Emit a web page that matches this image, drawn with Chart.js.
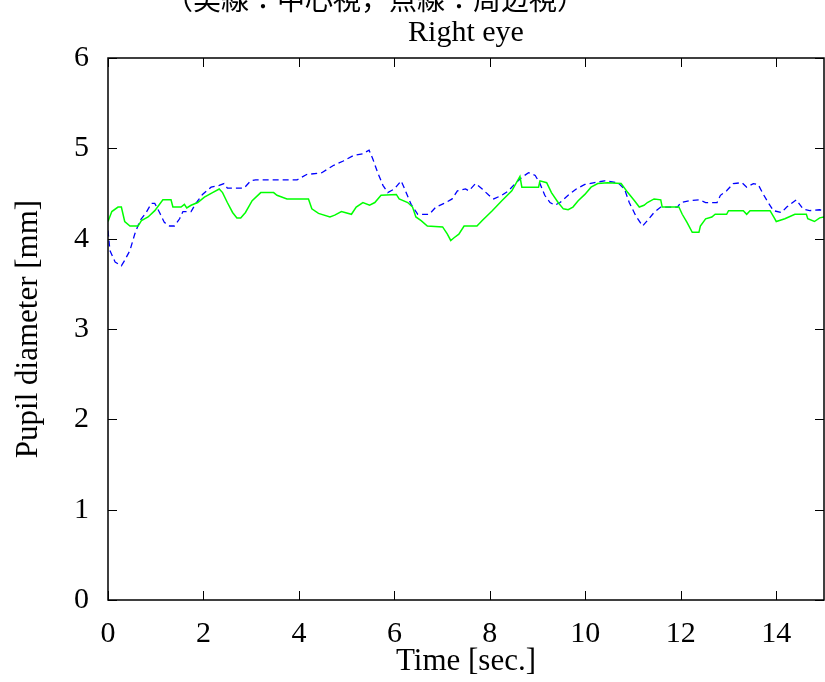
<!DOCTYPE html>
<html>
<head>
<meta charset="utf-8">
<script src="https://cdn.jsdelivr.net/npm/chart.js@4.4.1/dist/chart.umd.min.js"></script>
<style>
  html, body { margin: 0; padding: 0; background: #fff; overflow: hidden; }
  #wrap { position: relative; width: 825px; height: 682px; }
  #note {
    position: absolute; left: 165px; top: -16px;
    font-family: "Noto Sans CJK JP"; font-size: 28px; line-height: 28px;
    color: #000; white-space: nowrap;
  }
</style>
</head>
<body>
<div id="wrap">
  <canvas id="pupilChart"></canvas>
  <div id="note">（実線：中心視，点線：周辺視）</div>
</div>
<script>
// Right eye pupil diameter, central (solid green) vs peripheral (dashed blue)
const greenTime = [0.00, 0.08, 0.21, 0.28, 0.35, 0.46, 0.63, 0.70, 0.84, 0.98, 1.15, 1.32, 1.36, 1.53, 1.60, 1.65, 1.74, 1.88,
  2.02, 2.19, 2.33, 2.40, 2.50, 2.61, 2.70, 2.78, 2.88, 3.02, 3.20, 3.47, 3.54, 3.75, 4.20, 4.27, 4.41, 4.65, 4.75, 4.89,
  5.10, 5.20, 5.34, 5.48, 5.59, 5.72, 6.04, 6.10, 6.28, 6.38, 6.45, 6.56, 6.69, 7.01, 7.11, 7.18, 7.25, 7.35, 7.46, 7.73,
  7.84, 8.05, 8.25, 8.46, 8.63, 8.67, 9.02, 9.05, 9.19, 9.29, 9.43, 9.54, 9.64, 9.74, 9.85, 9.99, 10.12, 10.26, 10.47,
  10.75, 10.89, 11.03, 11.13, 11.23, 11.30, 11.44, 11.58, 11.61, 11.96, 12.03, 12.13, 12.24, 12.38, 12.41, 12.52, 12.65,
  12.72, 12.96, 13.00, 13.31, 13.38, 13.45, 13.87, 13.97, 14.00, 14.18, 14.39, 14.63, 14.66, 14.80, 14.91, 15.00];
const greenPupil = [4.19, 4.30, 4.35, 4.35, 4.19, 4.14, 4.14, 4.20, 4.24, 4.31, 4.43, 4.43, 4.35, 4.35, 4.38, 4.34, 4.37, 4.40,
  4.46, 4.51, 4.55, 4.51, 4.40, 4.29, 4.23, 4.23, 4.29, 4.42, 4.51, 4.51, 4.48, 4.44, 4.44, 4.33, 4.28, 4.24, 4.26, 4.30,
  4.27, 4.35, 4.40, 4.37, 4.40, 4.48, 4.49, 4.44, 4.40, 4.35, 4.24, 4.20, 4.14, 4.13, 4.05, 3.98, 4.01, 4.05, 4.14, 4.14,
  4.20, 4.31, 4.42, 4.53, 4.69, 4.57, 4.57, 4.64, 4.62, 4.51, 4.40, 4.33, 4.32, 4.35, 4.42, 4.49, 4.57, 4.61, 4.62,
  4.61, 4.51, 4.42, 4.35, 4.37, 4.40, 4.44, 4.43, 4.35, 4.35, 4.27, 4.18, 4.07, 4.07, 4.14, 4.22, 4.24,
  4.27, 4.27, 4.31, 4.31, 4.27, 4.31, 4.31, 4.22, 4.19, 4.22, 4.27, 4.27, 4.22, 4.19, 4.23, 4.24];

const blueTime = [0.00, 0.04, 0.15, 0.28, 0.35, 0.46, 0.56, 0.67, 0.80, 0.91, 0.98, 1.08, 1.18, 1.29, 1.39, 1.50, 1.57, 1.74,
  1.84, 1.98, 2.16, 2.33, 2.43, 2.50, 2.85, 2.99, 3.09, 3.96, 4.16, 4.48, 4.72, 4.93, 5.14, 5.34, 5.47, 5.55, 5.65, 5.76,
  5.86, 6.00, 6.14, 6.20, 6.35, 6.49, 6.73, 6.87, 7.08, 7.21, 7.32, 7.49, 7.56, 7.70, 7.84, 7.98, 8.08, 8.25, 8.39, 8.53,
  8.67, 8.81, 8.95, 9.05, 9.15, 9.26, 9.36, 9.47, 9.64, 9.81, 9.99, 10.19, 10.40, 10.68, 10.82, 10.92, 11.06, 11.20,
  11.30, 11.44, 11.58, 11.93, 12.00, 12.17, 12.38, 12.52, 12.76, 12.83, 12.96, 13.10, 13.28, 13.38, 13.52, 13.62, 13.73,
  13.83, 13.94, 14.11, 14.22, 14.42, 14.56, 14.70, 14.91, 15.00];
const bluePupil = [4.09, 3.87, 3.74, 3.70, 3.76, 3.87, 4.05, 4.20, 4.29, 4.39, 4.39, 4.29, 4.18, 4.14, 4.14, 4.22, 4.30, 4.30,
  4.39, 4.49, 4.57, 4.59, 4.61, 4.56, 4.56, 4.64, 4.65, 4.65, 4.71, 4.73, 4.81, 4.86, 4.92, 4.94, 4.98, 4.88, 4.73, 4.59,
  4.51, 4.55, 4.64, 4.57, 4.38, 4.27, 4.27, 4.35, 4.40, 4.44, 4.53, 4.55, 4.53, 4.61, 4.55, 4.48, 4.44, 4.48, 4.53, 4.61,
  4.68, 4.73, 4.70, 4.61, 4.48, 4.40, 4.37, 4.40, 4.48, 4.55, 4.60, 4.62, 4.64, 4.62, 4.55, 4.40, 4.25, 4.14,
  4.20, 4.29, 4.35, 4.35, 4.40, 4.42, 4.43, 4.40, 4.40, 4.48, 4.53, 4.61, 4.62, 4.57, 4.61, 4.60, 4.49,
  4.40, 4.31, 4.29, 4.35, 4.43, 4.33, 4.31, 4.32, 4.31];

const xTicks = [0, 2, 4, 6, 8, 10, 12, 14];
const yTicks = [0, 1, 2, 3, 4, 5, 6];

const serif = 'Liberation Serif';

function toPoints(ts, vs) {
  return ts.map((t, i) => ({ x: t, y: vs[i] }));
}

// gnuplot style box with ticks pointing inward on all four sides
const frameTicks = {
  id: 'frameTicks',
  afterDatasetsDraw(chart) {
    const { ctx, chartArea: a, scales } = chart;
    const len = 9;
    ctx.save();
    ctx.strokeStyle = '#000';
    ctx.lineWidth = 1.5;
    ctx.strokeRect(a.left, a.top, a.right - a.left, a.bottom - a.top);
    ctx.lineWidth = 1;
    ctx.beginPath();
    xTicks.forEach(v => {
      const px = Math.round(scales.x.getPixelForValue(v)) + 0.5;
      ctx.moveTo(px, a.bottom); ctx.lineTo(px, a.bottom - len);
      ctx.moveTo(px, a.top); ctx.lineTo(px, a.top + len);
    });
    yTicks.forEach(v => {
      const py = Math.round(scales.y.getPixelForValue(v)) + 0.5;
      ctx.moveTo(a.left, py); ctx.lineTo(a.left + len, py);
      ctx.moveTo(a.right, py); ctx.lineTo(a.right - len, py);
    });
    ctx.stroke();
    ctx.restore();
  }
};

const ctx = document.getElementById('pupilChart').getContext('2d');
const pupilChart = new Chart(ctx, {
  type: 'line',
  data: {
    datasets: [{
      label: 'Central',
      data: toPoints(greenTime, greenPupil),
      borderColor: '#00ff00',
      borderWidth: 1.5,
      pointRadius: 0,
      tension: 0
    }, {
      label: 'Peripheral',
      data: toPoints(blueTime, bluePupil),
      borderColor: '#0000ff',
      borderWidth: 1.3,
      borderDash: [6, 4],
      pointRadius: 0,
      tension: 0
    }]
  },
  options: {
    responsive: true,
    maintainAspectRatio: false,
    animation: false,
    layout: { padding: { left: 0, right: 1, top: 0, bottom: 0 } },
    plugins: {
      legend: { display: false },
      tooltip: { enabled: false },
      title: {
        display: true,
        text: 'Right eye',
        fullSize: false,
        color: '#000',
        font: { family: serif, size: 30, weight: 'normal' },
        padding: { top: 15, bottom: 7 }
      }
    },
    scales: {
      x: {
        type: 'linear',
        min: 0,
        max: 15,
        grid: { display: false },
        border: { display: false },
        ticks: {
          stepSize: 2,
          includeBounds: false,
          maxRotation: 0,
          color: '#000',
          padding: 8,
          font: { family: serif, size: 30 }
        },
        title: {
          display: true,
          text: 'Time [sec.]',
          color: '#000',
          font: { family: serif, size: 31 },
          padding: { top: 0, bottom: 2 }
        },
        afterFit(scale) { scale.height = 82; }
      },
      y: {
        min: 0,
        max: 6,
        grid: { display: false },
        border: { display: false },
        ticks: {
          stepSize: 1,
          color: '#000',
          padding: 11,
          font: { family: serif, size: 30 }
        },
        title: {
          display: true,
          text: 'Pupil diameter [mm]',
          color: '#000',
          font: { family: serif, size: 31 },
          padding: { top: 10, bottom: 0 }
        },
        afterFit(scale) { scale.width = 108; }
      }
    }
  },
  plugins: [frameTicks]
});
</script>
</body>
</html>
